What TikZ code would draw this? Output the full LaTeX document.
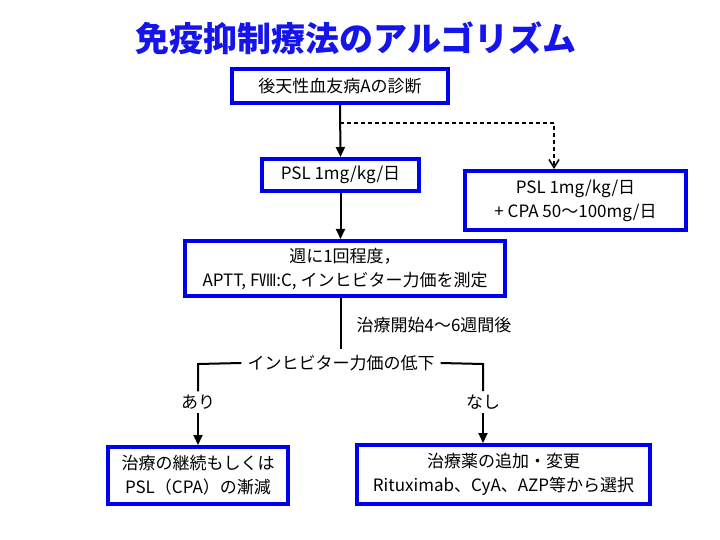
\documentclass[tikz,border=0pt]{standalone}
\usepackage{fontspec}
\setmainfont{Noto Sans CJK JP}
\usetikzlibrary{arrows.meta}
\definecolor{boxblue}{RGB}{0,0,240}
\definecolor{titleblue}{RGB}{20,20,235}
\begin{document}
\begin{tikzpicture}[x=1pt, y=-1pt,
    font=\fontsize{17}{24}\selectfont,
    stepbox/.style={draw=boxblue, line width=4pt, fill=white, align=center,
      inner sep=0pt},
    link/.style={line width=2pt, -{Triangle[width=9pt,length=10pt]}},
    plain/.style={line width=2pt},
    option/.style={line width=1.6pt, dash pattern=on 4pt off 3pt,
      -{Straight Barb[width=10pt,length=8pt,line width=1.6pt]}}]
  \useasboundingbox (0,0) rectangle (720,540);
  % Titre
  \node[font=\fontsize{34}{38}\selectfont\bfseries, text=titleblue] (title)
    at (356,38) {免疫抑制療法のアルゴリズム};
  % Boites
  \node[stepbox, minimum width=216pt, minimum height=34pt] (diag)
    at (340,86) {後天性血友病Aの診断};
  \node[stepbox, minimum width=157pt, minimum height=32pt] (psl)
    at (340.5,175) {PSL 1mg/kg/日};
  \node[stepbox, minimum width=221pt, minimum height=59pt] (combo)
    at (575.5,200.5) {PSL 1mg/kg/日\\+ CPA 50〜100mg/日};
  \node[stepbox, minimum width=320pt, minimum height=55pt] (weekly)
    at (345,268.5) {週に1回程度，\\APTT, FⅧ:C, インヒビター力価を測定};
  \node[stepbox, minimum width=180pt, minimum height=57pt] (keep)
    at (198,475.5) {治療の継続もしくは\\PSL（CPA）の漸減};
  \node[stepbox, minimum width=293pt, minimum height=59pt] (change)
    at (503.5,474.5) {治療薬の追加・変更\\Rituximab、CyA、AZP等から選択};
  % Textes sans cadre
  \node (when) at (434,325) {治療開始4～6週間後};
  \node[inner sep=6pt] (drop) at (341,363) {インヒビター力価の低下};
  \node (yes) at (198,402) {あり};
  \node (no) at (483,402) {なし};
  \coordinate (fork) at (340,123);
  \coordinate (forkR) at (554,123);
  \coordinate (turnL) at (198,364);
  \coordinate (turnR) at (483,364);
  % Liaisons
  \draw[link] (diag.south) -- (psl.north);
  \draw[option] (fork) -- (forkR) -- (forkR |- combo.north);
  \draw[link] (psl.south) -- (psl.south |- weekly.north);
  \draw[plain] (psl.south |- weekly.south) -- (drop.north -| psl.south);
  \draw[plain] (drop.west) -- (turnL) -- (yes.north);
  \draw[plain] (drop.east) -- (turnR) -- (no.north);
  \draw[link] (yes.south) -- (yes.south |- keep.north);
  \draw[link] (no.south) -- (no.south |- change.north);
\end{tikzpicture}
\end{document}
